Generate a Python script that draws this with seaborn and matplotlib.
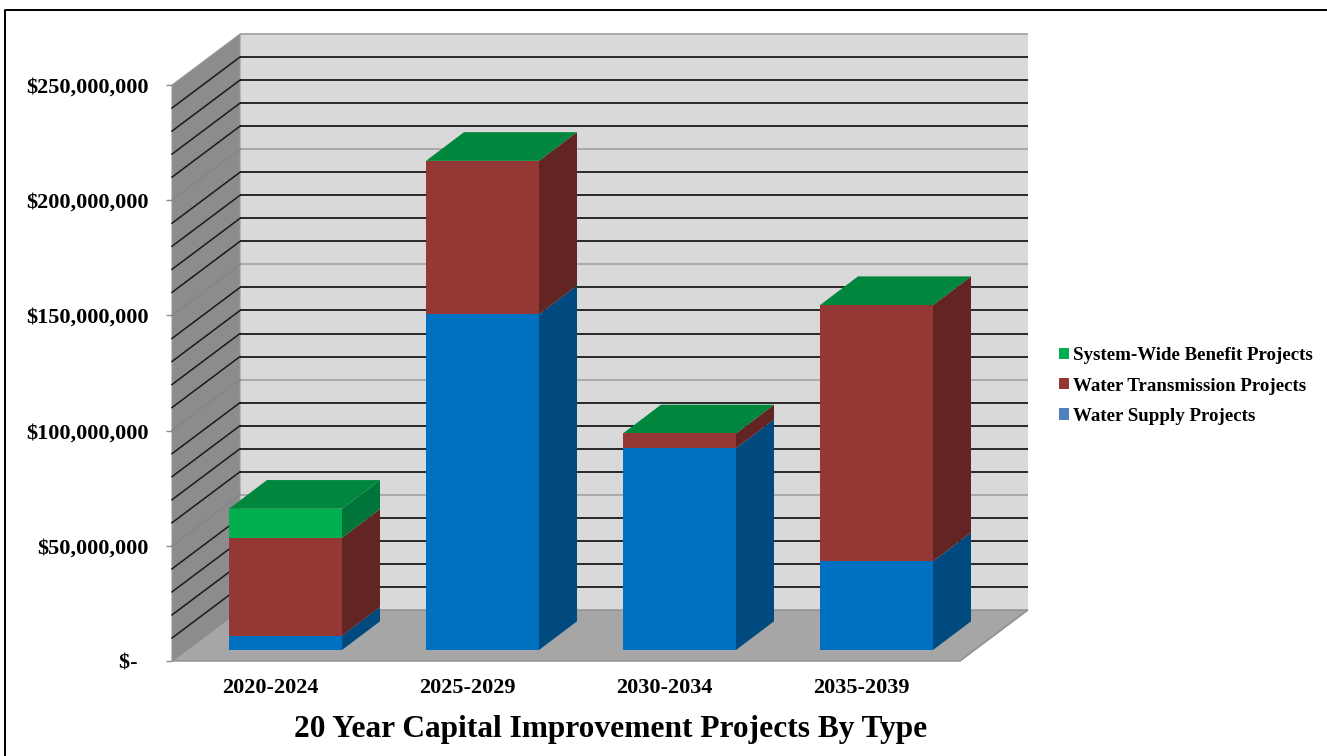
import matplotlib
matplotlib.use("Agg")
import matplotlib.pyplot as plt
import matplotlib.transforms as mtrans
from matplotlib.patches import Polygon, Patch
from matplotlib.lines import Line2D
import numpy as np
import pandas as pd
import seaborn as sns

# valores (millones de dolares)
periodos = ["2020-2024", "2025-2029", "2030-2034", "2035-2039"]
water_supply = [6.2, 145.7, 87.6, 38.5]
water_transmission = [42.5, 66.6, 6.4, 111.2]
system_wide = [12.6, 0, 0, 0]
ticks_y = [0, 50, 100, 150, 200, 250]
etiquetas_y = ["$-  ", "$50,000,000", "$100,000,000", "$150,000,000", "$200,000,000", "$250,000,000"]

# geometria del "3D" en unidades de datos
W, H, DPI = 1327, 756, 100
PX_X = 197.0          # pixeles por categoria
PX_Y = 576 / 250      # pixeles por millon
wall_dx, wall_dy = 68 / PX_X, 51 / PX_Y
bar_dx, bar_dy = 38 / PX_X, 28.7 / PX_Y
off_x, off_y = 15 / PX_X, 11 / PX_Y
ancho = 113 / PX_X

azules = ("#0070C0", "#004A80", "#004A80")
rojos = ("#953735", "#632523", "#632523")
verdes = ("#00B050", "#00753A", "#00863D")

plt.rcParams["font.family"] = ["Liberation Serif", "DejaVu Serif"]
plt.rcParams["font.weight"] = "bold"

fig = plt.figure(figsize=(W / DPI, H / DPI), dpi=DPI)
ax = fig.add_axes([172 / W, (H - 661) / H, 788 / W, 576 / H])

df = pd.DataFrame({
    "periodo": periodos,
    "supply": water_supply,
    "transmission": water_transmission,
    "system": system_wide,
})
df["t1"] = df["supply"]
df["t2"] = df["t1"] + df["transmission"]
df["t3"] = df["t2"] + df["system"]

# barras acumuladas, de la mas alta a la mas baja
desplaza = mtrans.Affine2D().translate(off_x, off_y) + ax.transData
for col, cols in [("t3", verdes), ("t2", rojos), ("t1", azules)]:
    sns.barplot(data=df, x="periodo", y=col, color=cols[0], saturation=1, width=ancho,
                order=periodos, ax=ax, zorder=5, linewidth=0)
for p in ax.patches:
    p.set_transform(desplaza)
    p.set_clip_on(False)

ax.set_xlim(-0.5, 3.5)
ax.set_ylim(0, 250)

# paredes y piso
x0, x1 = -0.5, 3.5
ax.add_patch(Polygon([(x0 + wall_dx, wall_dy), (x1 + wall_dx, wall_dy), (x1 + wall_dx, 250 + wall_dy), (x0 + wall_dx, 250 + wall_dy)],
                     fc="#D9D9D9", ec="none", clip_on=False, zorder=1))
ax.plot([x0 + wall_dx, x1 + wall_dx], [250 + wall_dy] * 2, color="#A6A6A6", lw=1.3, clip_on=False, zorder=2,
        solid_capstyle="butt")
ax.add_patch(Polygon([(x0, 0), (x0 + wall_dx, wall_dy), (x0 + wall_dx, 250 + wall_dy), (x0, 250)],
                     fc="#8C8C8C", ec="#9A9A9A", lw=0.8, clip_on=False, zorder=1))
ax.add_patch(Polygon([(x0, 0), (x1, 0), (x1 + wall_dx, wall_dy), (x0 + wall_dx, wall_dy)],
                     fc="#A6A6A6", ec="#8C8C8C", lw=1.0, clip_on=False, zorder=2))

# rejilla cada 10 millones, gris en las marcas mayores
for v in range(10, 250, 10):
    mayor = v % 50 == 0
    ax.plot([x0 + wall_dx, x1 + wall_dx], [v + wall_dy] * 2, color="#A6A6A6" if mayor else "#1A1A1A",
            lw=1.3, clip_on=False, zorder=2, solid_capstyle="butt")
    ax.plot([x0, x0 + wall_dx], [v, v + wall_dy], color="#858585" if mayor else "#1A1A1A",
            lw=1.1, clip_on=False, zorder=2)

# caras lateral y superior de cada tramo
for i in range(len(periodos)):
    xr = i + ancho / 2 + off_x
    xl = i - ancho / 2 + off_x
    niveles = [(0, df.t1[i], azules), (df.t1[i], df.t2[i], rojos), (df.t2[i], df.t3[i], verdes)]
    for a, b, cols in niveles:
        if b > a:
            a2, b2 = a + off_y, b + off_y
            ax.add_patch(Polygon([(xr, a2), (xr + bar_dx, a2 + bar_dy), (xr + bar_dx, b2 + bar_dy), (xr, b2)],
                                 fc=cols[1], ec="none", clip_on=False, zorder=4))
    t = df.t3[i] + off_y
    ax.add_patch(Polygon([(xl, t), (xr, t), (xr + bar_dx, t + bar_dy), (xl + bar_dx, t + bar_dy)],
                         fc=verdes[2], ec="none", clip_on=False, zorder=4))

# ejes y textos
sns.despine(ax=ax, left=True, bottom=True)
ax.patch.set_visible(False)
ax.set_xlabel("")
ax.set_ylabel("")
ax.set_yticks(ticks_y)
ax.set_yticklabels(etiquetas_y, fontsize=16, fontweight="bold")
ax.tick_params(axis="y", length=4.3, width=1, color="#8C8C8C", pad=12.5)
ax.tick_params(axis="x", length=0, pad=12.5, labelsize=16)
for t in ax.get_xticklabels():
    t.set_fontweight("bold")

fig.text(611 / W, 1 - 729 / H, "20 Year Capital Improvement Projects By Type",
         ha="center", va="center", fontsize=22.55, fontweight="bold")

marcas = [Patch(fc=verdes[0]), Patch(fc=rojos[0]), Patch(fc="#4F81BD")]
fig.legend(marcas, ["System-Wide Benefit Projects", "Water Transmission Projects", "Water Supply Projects"],
           loc="center left", bbox_to_anchor=(1059 / W, 1 - 386 / H), frameon=False, fontsize=13.6,
           handlelength=0.53, handleheight=0.53, handletextpad=0.21, labelspacing=0.7, borderpad=0, borderaxespad=0)

# marco negro de la imagen
fig.add_artist(Line2D([5 / W, 5 / W, 1], [0, 1 - 10 / H, 1 - 10 / H], color="black", lw=1.4))

fig.savefig("out.png", dpi=DPI)
